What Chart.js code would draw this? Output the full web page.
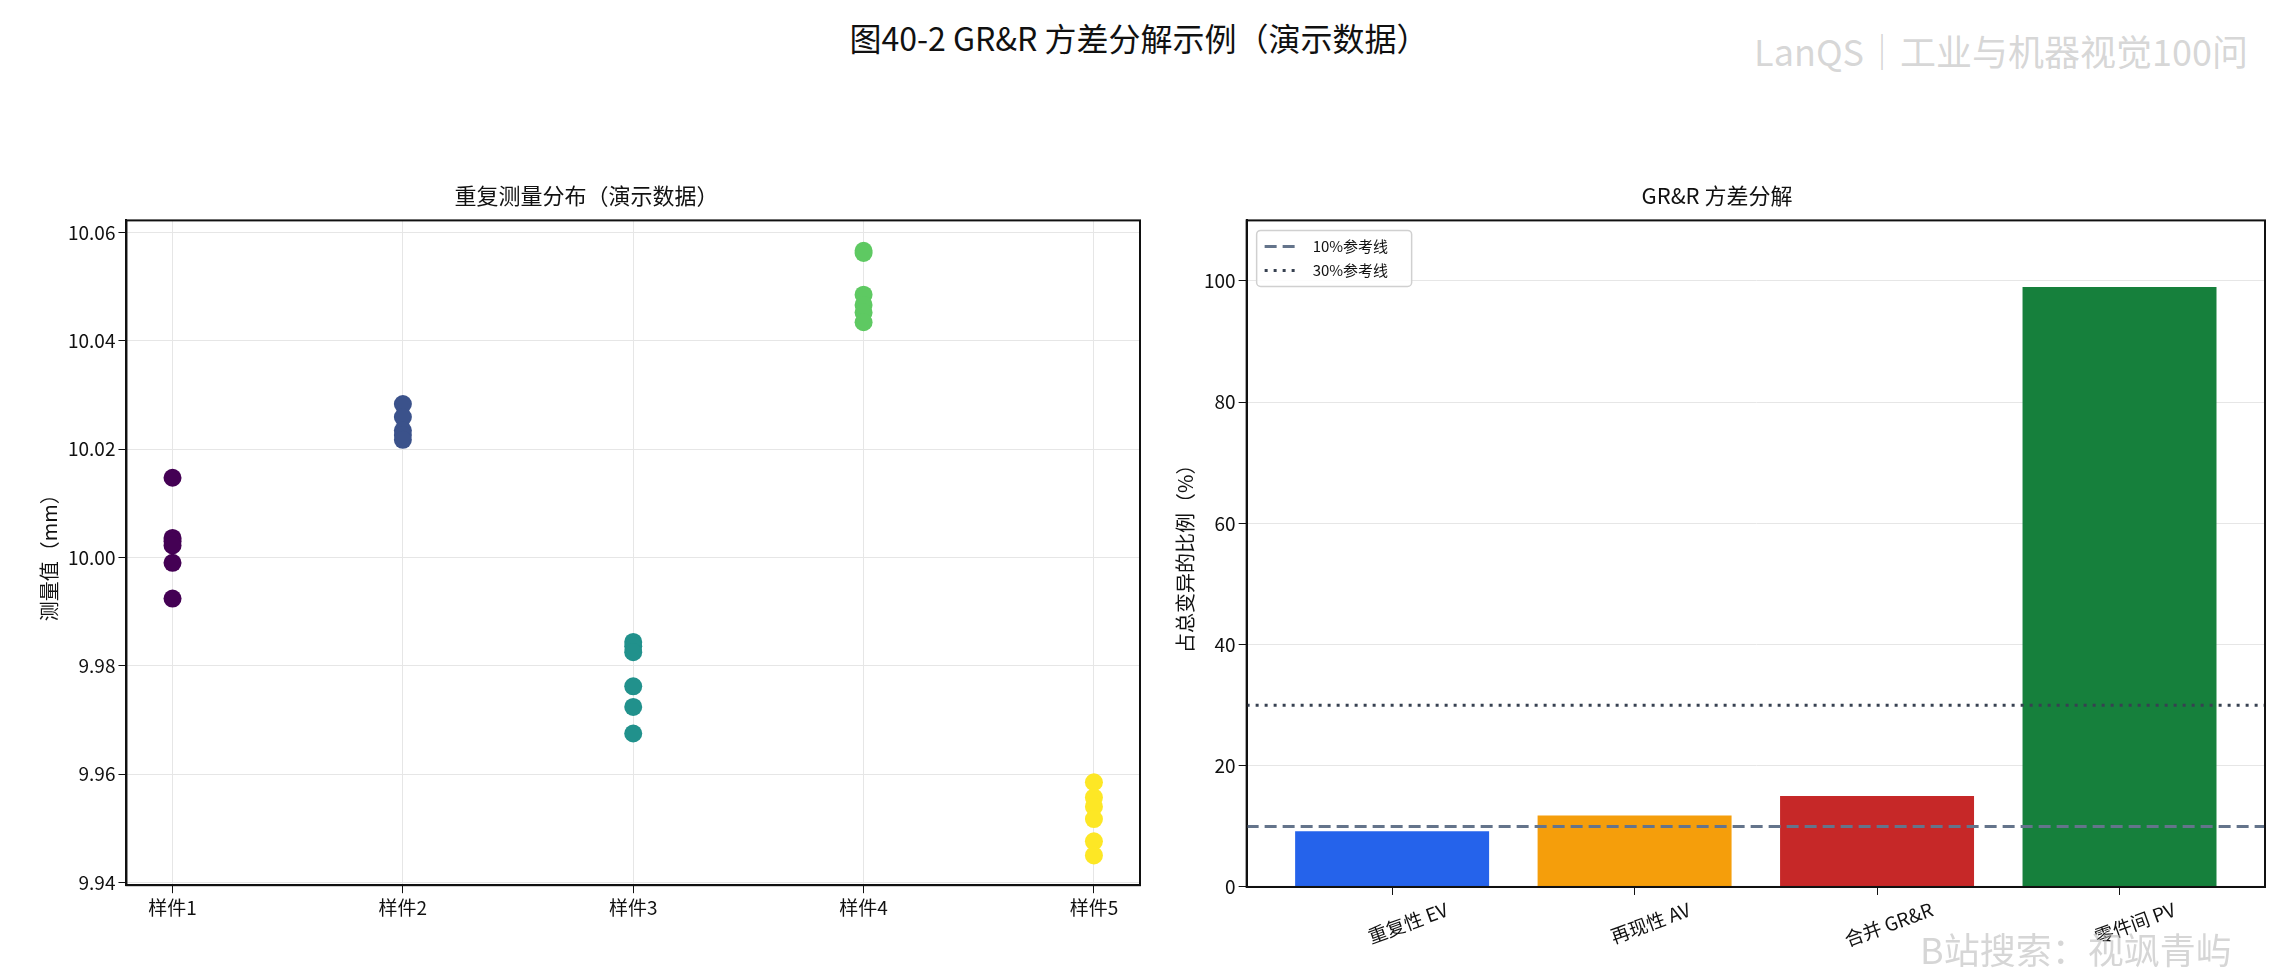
<!DOCTYPE html>
<html>
<head>
<meta charset="utf-8">
<script src="https://cdn.jsdelivr.net/npm/chart.js@4"></script>
<style>
  body { margin: 0; width: 2278px; height: 975px; background: #fff; position: relative; overflow: hidden; font-family: "Noto Sans CJK SC", sans-serif; }
  .box { position: absolute; }
  #title { position: absolute; top: 14px; left: 0; width: 2278px; text-align: center; font-size: 32px; color: #111; }
  .wm { position: absolute; color: rgba(180,180,180,0.55); font-size: 36px; white-space: nowrap; }
</style>
</head>
<body>
<div id="title">图40-2 GR&amp;R 方差分解示例（演示数据）</div>
<div class="box" style="left:0;top:182px;width:1160px;height:740px"><canvas id="left"></canvas></div>
<div class="box" style="left:1150px;top:182px;width:1125px;height:772px"><canvas id="right"></canvas></div>
<div class="wm" style="right:30px;top:24px">LanQS｜工业与机器视觉100问</div>
<div class="wm" style="left:1920px;top:922px">B站搜索：视飒青屿</div>
<script>
  const FONT = '"Noto Sans CJK SC", sans-serif';
  const SAMPLE_LABELS = ['样件1', '样件2', '样件3', '样件4', '样件5'];
  const SAMPLE_COLORS = ['#440154', '#3b528b', '#21918c', '#5ec962', '#fde725'];
  const sample1 = [10.0147, 10.0036, 10.0030, 10.0022, 9.9990, 9.9924];
  const sample2 = [10.0283, 10.0259, 10.0234, 10.0226, 10.0217];
  const sample3 = [9.9844, 9.9836, 9.9825, 9.9762, 9.9724, 9.9675];
  const sample4 = [10.0566, 10.0562, 10.0485, 10.0466, 10.0452, 10.0434];
  const sample5 = [9.9585, 9.9557, 9.9540, 9.9517, 9.9476, 9.9450];
  const samples = [sample1, sample2, sample3, sample4, sample5];

  const COMPONENTS = ['重复性 EV', '再现性 AV', '合并 GR&R', '零件间 PV'];
  const COMPONENT_PCT = [9.2, 11.8, 15.0, 99.0];
  const COMPONENT_COLORS = ['#2563eb', '#f59e0b', '#c62828', '#16803c'];
  const REF_10 = 10;
  const REF_30 = 30;

  Chart.defaults.font.family = FONT;
  Chart.defaults.color = '#111';
  Chart.defaults.animation = false;

  const tickFont = { size: 19 };
  const titleFont = { size: 22, weight: 'normal' };

  const frame = {
    id: 'frame',
    afterDraw(c) {
      const a = c.chartArea, g = c.ctx;
      g.save(); g.strokeStyle = '#111'; g.lineWidth = 2;
      g.strokeRect(a.left, a.top, a.right - a.left, a.bottom - a.top);
      g.restore();
    },
  };

  new Chart(document.getElementById('left'), {
    type: 'scatter',
    data: {
      datasets: samples.map((vals, i) => ({
        data: vals.map(v => ({ x: i + 1, y: v })),
        backgroundColor: SAMPLE_COLORS[i],
        borderWidth: 0,
        pointRadius: 9,
      })),
    },
    options: {
      responsive: true,
      maintainAspectRatio: false,
      layout: { padding: { left: 33, right: 20, top: 0, bottom: 0 } },
      plugins: {
        legend: { display: false },
        title: { display: true, text: '重复测量分布（演示数据）', font: titleFont, padding: { top: 0, bottom: 12 } },
      },
      scales: {
        x: {
          type: 'linear', min: 0.8, max: 5.2,
          afterBuildTicks: ax => { ax.ticks = [1, 2, 3, 4, 5].map(v => ({ value: v })); },
          ticks: { font: tickFont, callback: v => SAMPLE_LABELS[v - 1] },
          grid: { color: '#e6e6e6', tickColor: '#111', tickLength: 8 },
          border: { color: '#111', width: 2 },
        },
        y: {
          min: 9.9395, max: 10.0622,
          afterBuildTicks: ax => { ax.ticks = [9.94, 9.96, 9.98, 10.0, 10.02, 10.04, 10.06].map(v => ({ value: v })); },
          ticks: { font: tickFont, callback: v => v.toFixed(2) },
          grid: { color: '#e6e6e6', tickColor: '#111', tickLength: 8 },
          border: { color: '#111', width: 2 },
          title: { display: true, text: '测量值（mm）', font: { size: 20 } },
        },
      },
    },
    plugins: [frame],
  });

  // legend box drawn in the upper-left corner of the plot area
  const refLegend = {
    id: 'refLegend',
    afterDraw(c) {
      const a = c.chartArea, g = c.ctx;
      const lines = c.data.datasets.slice(1);
      const x0 = a.left + 10, y0 = a.top + 10, w = 155, h = 56;
      g.save();
      g.fillStyle = 'rgba(255,255,255,0.85)';
      g.strokeStyle = '#d0d0d0'; g.lineWidth = 1.5;
      g.beginPath(); g.roundRect(x0, y0, w, h, 4); g.fill(); g.stroke();
      g.font = '15px ' + FONT; g.fillStyle = '#111'; g.textBaseline = 'middle';
      lines.forEach((d, i) => {
        const y = y0 + 16 + i * 24;
        g.strokeStyle = d.borderColor; g.lineWidth = 3; g.setLineDash(d.borderDash);
        g.beginPath(); g.moveTo(x0 + 8, y); g.lineTo(x0 + 44, y); g.stroke();
        g.setLineDash([]);
        g.fillText(d.label, x0 + 56, y);
      });
      g.restore();
    },
  };

  new Chart(document.getElementById('right'), {
    data: {
      datasets: [
        {
          type: 'bar',
          data: COMPONENT_PCT.map((v, i) => ({ x: i, y: v })),
          backgroundColor: COMPONENT_COLORS,
          categoryPercentage: 1,
          barPercentage: 0.8,
          order: 2,
        },
        {
          type: 'line', label: '10%参考线',
          data: [{ x: -0.6, y: REF_10 }, { x: 3.6, y: REF_10 }],
          borderColor: '#64748b', borderWidth: 3, borderDash: [12, 6], pointRadius: 0, order: 1,
        },
        {
          type: 'line', label: '30%参考线',
          data: [{ x: -0.6, y: REF_30 }, { x: 3.6, y: REF_30 }],
          borderColor: '#374151', borderWidth: 3, borderDash: [3, 6], pointRadius: 0, order: 1,
        },
      ],
    },
    options: {
      responsive: true,
      maintainAspectRatio: false,
      layout: { padding: { left: 19, right: 10, top: 0, bottom: 0 } },
      plugins: {
        legend: { display: false },
        title: { display: true, text: 'GR&R 方差分解', font: titleFont, padding: { top: 0, bottom: 12 } },
      },
      scales: {
        x: {
          type: 'linear', min: -0.6, max: 3.6, offset: false,
          afterBuildTicks: ax => { ax.ticks = [0, 1, 2, 3].map(v => ({ value: v })); },
          ticks: { font: tickFont, minRotation: 20, maxRotation: 20, labelOffset: 55, callback: v => COMPONENTS[v] },
          grid: { display: true, offset: false, drawOnChartArea: false, tickColor: '#111', tickLength: 8 },
          border: { color: '#111', width: 2 },
        },
        y: {
          min: 0, max: 110,
          afterBuildTicks: ax => { ax.ticks = [0, 20, 40, 60, 80, 100].map(v => ({ value: v })); },
          ticks: { font: tickFont },
          grid: { color: '#e6e6e6', tickColor: '#111', tickLength: 8 },
          border: { color: '#111', width: 2 },
          title: { display: true, text: '占总变异的比例（%）', font: { size: 20 } },
        },
      },
    },
    plugins: [frame, refLegend],
  });
</script>
</body>
</html>
